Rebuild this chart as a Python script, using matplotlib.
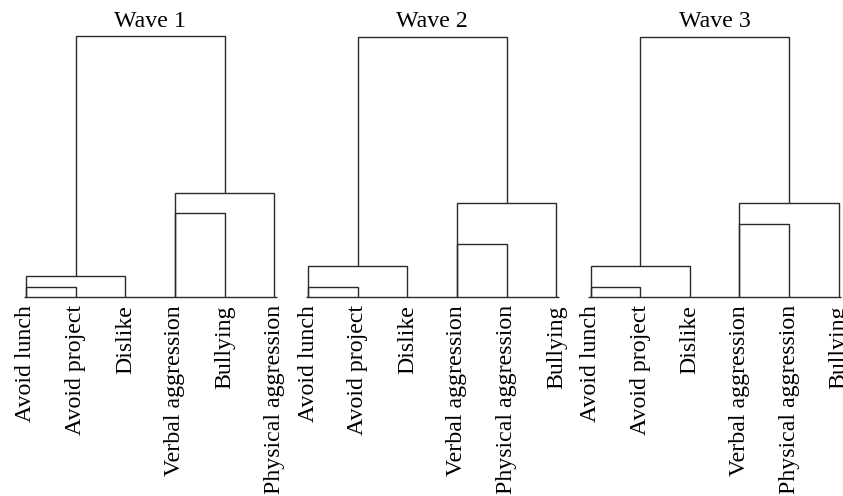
import matplotlib
matplotlib.use("Agg")
import matplotlib.pyplot as plt

plt.rcParams['font.family'] = ['Liberation Serif', 'DejaVu Serif']

titles = ["Wave 1", "Wave 2", "Wave 3"]
labels_w1 = ["Avoid lunch", "Avoid project", "Dislike", "Verbal aggression", "Bullying", "Physical aggression"]
labels_w2 = ["Avoid lunch", "Avoid project", "Dislike", "Verbal aggression", "Physical aggression", "Bullying"]
labels_w3 = ["Avoid lunch", "Avoid project", "Dislike", "Verbal aggression", "Physical aggression", "Bullying"]
all_labels = [labels_w1, labels_w2, labels_w3]

# merge heights (arbitrary distance units)
h_pair_left = [10, 10, 10.5]     # Avoid lunch + Avoid project
h_left = [21, 31, 31]            # + Dislike
h_pair_right = [84, 53, 73.5]    # first pair in right cluster
h_right = [104, 94, 94]          # + third item
h_top = [261, 260, 260]          # final merge

W, H = 843, 496
fig = plt.figure(figsize=(W / 100, H / 100), dpi=100)

leaf_step = 49.65
first_leaf = [26, 308, 590.5]
base_y = 297.3
top_y = 36.5
xpad = 0.2
col = '#2a2a2a'
lw = 1.0
fs = 17.2

for k in range(3):
    left_px = first_leaf[k] - xpad * leaf_step
    width_px = (5 + 2 * xpad) * leaf_step
    ax = fig.add_axes([left_px / W, (H - base_y) / H, width_px / W, (base_y - top_y) / H])
    ax.set_xlim(-xpad, 5 + xpad)
    ax.set_ylim(0, 261)
    ax.axis('off')

    def seg(x0, y0, x1, y1):
        ax.plot([x0, x1], [y0, y1], color=col, lw=lw, clip_on=False, solid_capstyle='butt')

    def u(xl, xr, h, yl=0, yr=0):
        ax.plot([xl, xl, xr, xr], [yl, h, h, yr], color=col, lw=lw, clip_on=False,
                solid_joinstyle='miter', solid_capstyle='butt')

    # baseline
    seg(-0.05, 0, 5.05, 0)
    # left cluster
    u(0, 1, h_pair_left[k])
    u(0, 2, h_left[k])
    # right cluster
    u(3, 4, h_pair_right[k])
    u(3, 5, h_right[k])
    # top link
    u(1, 4, h_top[k], h_left[k], h_right[k])

    ax.annotate(titles[k], xy=(2.5, 1), xycoords=('data', 'axes fraction'),
                xytext=(0, 6.5), textcoords='offset points',
                ha='center', va='baseline', fontsize=fs)
    for i, lab in enumerate(all_labels[k]):
        ax.annotate(lab, xy=(i, 0), xycoords='data', xytext=(0, -5.5), textcoords='offset points',
                    rotation=90, ha='center', va='top', fontsize=fs, annotation_clip=False)

fig.savefig("out.png", dpi=100)
